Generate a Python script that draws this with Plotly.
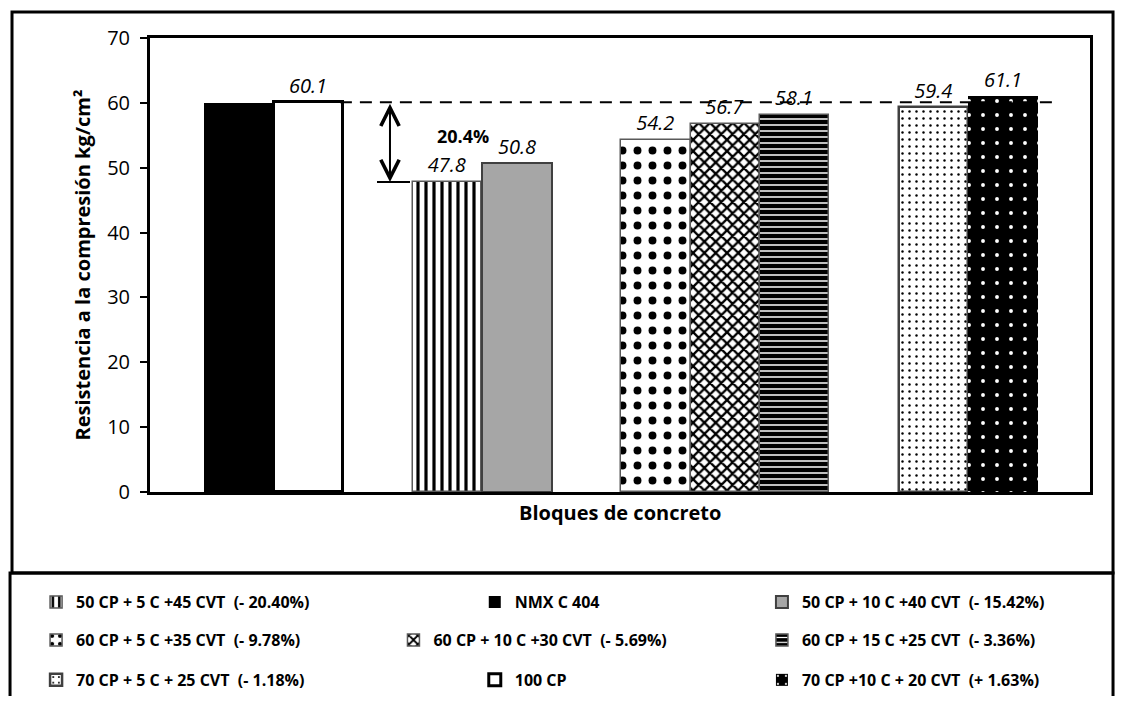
import plotly.graph_objects as go

# datos
series = ["NMX C 404", "100 CP",
          "50 CP + 5 C +45 CVT  (- 20.40%)", "50 CP + 10 C +40 CVT  (- 15.42%)",
          "60 CP + 5 C +35 CVT  (- 9.78%)", "60 CP + 10 C +30 CVT  (- 5.69%)", "60 CP + 15 C +25 CVT  (- 3.36%)",
          "70 CP + 5 C + 25 CVT  (- 1.18%)", "70 CP +10 C + 20 CVT  (+ 1.63%)"]
resistencia = [60.0, 60.1, 47.8, 50.8, 54.2, 56.7, 58.1, 59.4, 61.1]
etiquetas = ["", "60.1", "47.8", "50.8", "54.2", "56.7", "58.1", "59.4", "61.1"]
# orden de categorias (con huecos entre grupos)
orden = [series[0], series[1], " ", series[2], series[3], "  ",
         series[4], series[5], series[6], "   ", series[7], series[8]]
y_ticks = [0, 10, 20, 30, 40, 50, 60, 70]
referencia = 60.1
reduccion = "20.4%"

FONT = "Open Sans"

# estilos: (color fondo, forma, color patron, tamano, solidez, color borde, ancho borde)
estilos = [
    ("black", "", "black", 8, 0.3, "black", 0),
    ("white", "", "black", 8, 0.3, "black", 3),
    ("white", "|", "black", 8, 0.4, "#595959", 1.5),
    ("#A6A6A6", "", "black", 8, 0.3, "#404040", 2),
    ("white", ".", "black", 15, 0.22, "#595959", 1.5),
    ("white", "x", "black", 8, 0.5, "#595959", 1.5),
    ("black", "-", "white", 6, 0.25, "#595959", 1.5),
    ("white", ".", "black", 7, 0.1, "#404040", 2.5),
    ("black", ".", "white", 14, 0.06, "black", 0),
]

# posicion de cada leyenda (x, y en papel)
pos_leyenda = [
    (0.3455, -0.2423), (0.3455, -0.414),
    (-0.1212, -0.2423), (0.651, -0.2423),
    (-0.1212, -0.326), (0.259, -0.326), (0.651, -0.326),
    (-0.1212, -0.414), (0.651, -0.414),
]

fig = go.Figure()
layout_legends = {}
for i, (nombre, val, txt, est) in enumerate(zip(series, resistencia, etiquetas, estilos)):
    bg, shape, fg, size, sol, lc, lw = est
    lname = "legend" if i == 0 else "legend%d" % (i + 1)
    fig.add_trace(go.Bar(
        x=[nombre], y=[val], name=nombre, width=1,
        text=[txt], textposition="outside", cliponaxis=False,
        textfont=dict(family=FONT, size=20, color="black", style="italic"),
        marker=dict(color=bg, line=dict(color=lc, width=lw),
                    pattern=dict(shape=shape, fgcolor=fg, bgcolor=bg, size=size, solidity=sol,
                                 fillmode="replace")),
        legend=lname, hoverinfo="skip",
    ))
    lx, ly = pos_leyenda[i]
    layout_legends[lname] = dict(x=lx, y=ly, xanchor="left", yanchor="middle",
                                 bgcolor="rgba(0,0,0,0)", borderwidth=0,
                                 font=dict(family=FONT, size=16, color="black", weight="bold"))

# la pagina tiene 8 px de margen en body
fig.update_layout(
    width=1107, height=688,
    margin=dict(l=142, r=25, t=30, b=204, autoexpand=False),
    paper_bgcolor="white", plot_bgcolor="white",
    barmode="overlay", bargap=0, showlegend=True,
    **layout_legends,
)

fig.update_xaxes(type="category", categoryorder="array", categoryarray=orden,
                 range=[-1.28, 12.25], showticklabels=False, ticks="",
                 showline=True, linecolor="black", linewidth=3, mirror=True, showgrid=False)
fig.update_yaxes(range=[0, 70], tickvals=y_ticks, ticks="outside", ticklen=7, tickwidth=2,
                 tickcolor="black", ticklabelstandoff=6,
                 tickfont=dict(family=FONT, size=20, color="black"),
                 showline=True, linecolor="black", linewidth=3, mirror=True,
                 showgrid=False, zeroline=False)

# linea de referencia, flecha y marco
fig.add_shape(type="line", xref="paper", yref="y", x0=0.202, x1=0.963, y0=referencia, y1=referencia,
              line=dict(color="black", width=2, dash="12px,8px"))
fig.add_shape(type="line", xref="paper", yref="y", x0=0.2415, x1=0.2766, y0=47.8, y1=47.8,
              line=dict(color="black", width=2))
fig.add_annotation(xref="paper", yref="y", x=0.2553, y=47.8, axref="pixel", ayref="y", ax=0, ay=referencia,
                   text="", showarrow=True, arrowside="end+start", arrowhead=5, startarrowhead=5,
                   arrowsize=1.8, startarrowsize=1.8, arrowwidth=2, arrowcolor="black", standoff=0, startstandoff=0)
fig.add_annotation(xref="paper", yref="y", x=0.3035, y=54.9, text="<b>%s</b>" % reduccion, showarrow=False,
                   font=dict(family=FONT, size=18, color="black"))

fig.add_annotation(xref="paper", yref="paper", x=-0.0883, y=0.5, textangle=-90, showarrow=False,
                   text="<b>Resistencia a la compresión kg/cm²</b>",
                   font=dict(family=FONT, size=20, color="black"))
fig.add_annotation(xref="paper", yref="paper", x=0.5, y=-0.0793, showarrow=False,
                   text="<b>Bloques de concreto</b>", font=dict(family=FONT, size=20, color="black"))

fig.add_shape(type="rect", xref="paper", yref="paper", x0=-0.1468, x1=1.0245, y0=-0.1784, y1=1.0573,
              line=dict(color="black", width=3))
fig.add_shape(type="rect", xref="paper", yref="paper", x0=-0.1489, x1=1.0245, y0=-0.48, y1=-0.1784,
              line=dict(color="black", width=3))

fig.write_html("out.html")
